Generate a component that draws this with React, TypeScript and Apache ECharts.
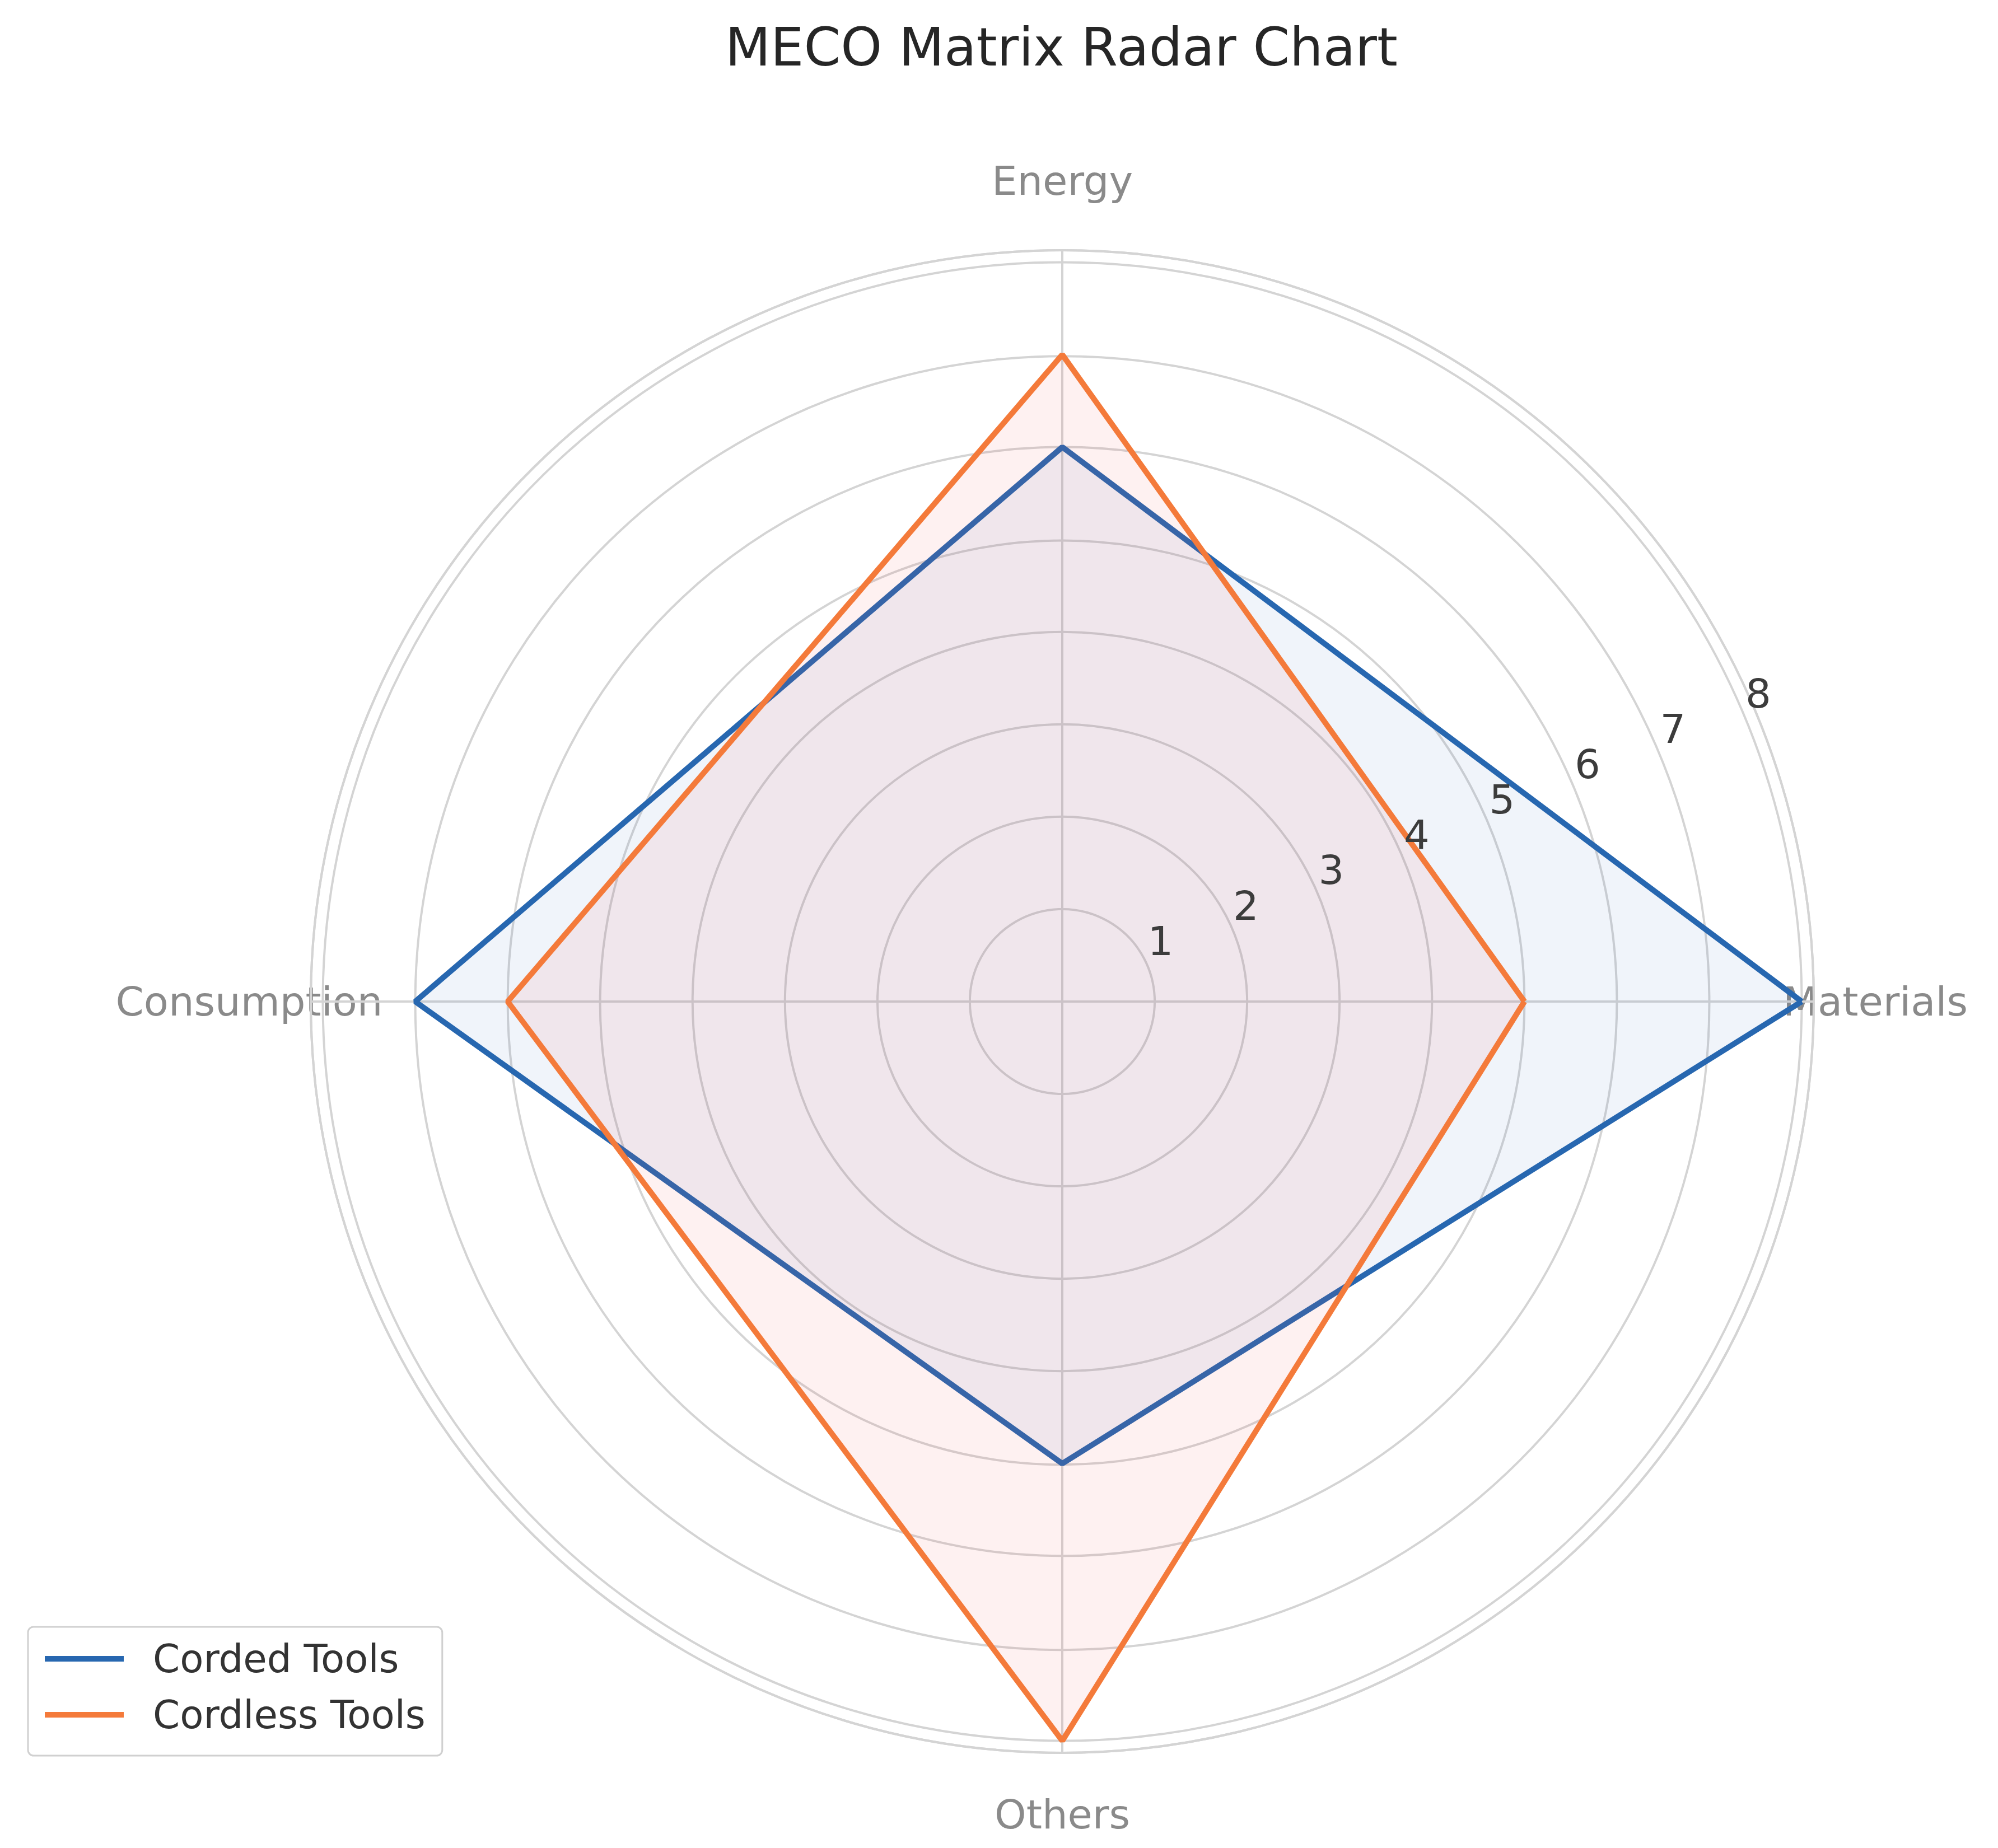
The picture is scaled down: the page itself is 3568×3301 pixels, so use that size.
import React, { useEffect, useRef } from "react";
import * as echarts from "echarts";

const title = "MECO Matrix Radar Chart";
const categories = ["Materials", "Energy", "Consumption", "Others"];
const seriesNames = ["Corded Tools", "Cordless Tools"];
const cordedValues = [8, 6, 7, 5];
const cordlessValues = [5, 7, 6, 8];
const radialTicks = [1, 2, 3, 4, 5, 6, 7, 8];
const radialMax = 8.13;

const FONT = "DejaVu Sans";
const GRID = "#d4d4d4";
const BLUE = "#2767b0";
const ORANGE = "#f47a3a";

function closedPoints(values: number[]) {
  const n = values.length;
  const pts = values.map((v, i) => [v, (i * 360) / n]);
  pts.push([values[0], 360]);
  return pts;
}

export default function App() {
  const ref = useRef<HTMLDivElement>(null);
  useEffect(() => {
    if (!ref.current) return;
    const chart = echarts.init(ref.current, null, { renderer: "svg" });
    const center = [1889, 1781];
    const radius = 1342;
    const labelStyle = {
      width: 500,
      lineHeight: 500,
      align: "center",
      fontFamily: FONT,
      fontSize: 72,
      color: "#8a8a8a",
    };
    chart.setOption({
      animation: false,
      backgroundColor: "#ffffff",
      textStyle: { fontFamily: FONT },
      title: {
        text: title,
        left: 1282,
        top: 24,
        textStyle: { fontFamily: FONT, fontSize: 94, fontWeight: "normal", color: "#262626" },
      },
      polar: [
        { center, radius },
        { center, radius },
      ],
      angleAxis: [
        {
          polarIndex: 0,
          type: "value",
          min: 0,
          max: 360,
          interval: 360 / categories.length,
          startAngle: 0,
          clockwise: false,
          axisLine: { show: true, lineStyle: { color: GRID, width: 4 } },
          axisTick: { show: false },
          splitLine: { show: true, lineStyle: { color: GRID, width: 4 } },
          axisLabel: {
            show: true,
            margin: -140,
            formatter: (v: number) => {
              const idx = Math.round(v / (360 / categories.length));
              if (idx >= categories.length) return "";
              return (idx === 1 ? "{e|" : "{c|") + categories[idx] + "}";
            },
            rich: {
              c: labelStyle,
              e: { ...labelStyle, lineHeight: 528 },
            },
          },
        },
        {
          polarIndex: 1,
          type: "value",
          min: 0,
          max: 360,
          startAngle: 22.5,
          show: false,
        },
      ],
      radiusAxis: [
        {
          polarIndex: 0,
          type: "value",
          min: 0,
          max: radialMax,
          interval: 1,
          axisLine: { show: false },
          axisTick: { show: false },
          axisLabel: { show: false },
          splitLine: { show: true, lineStyle: { color: GRID, width: 4 } },
        },
        {
          polarIndex: 1,
          type: "value",
          min: 0,
          max: radialMax,
          interval: 1,
          z: 10,
          axisLine: { show: false },
          axisTick: { show: false },
          splitLine: { show: false },
          axisLabel: {
            show: true,
            margin: 0,
            align: "left",
            verticalAlign: "bottom",
            lineHeight: 90,
            fontFamily: FONT,
            fontSize: 72,
            color: "#3c3c3c",
            showMaxLabel: false,
            formatter: (v: number) => (radialTicks.indexOf(v) >= 0 ? String(v) : ""),
          },
        },
      ],
      legend: {
        orient: "vertical",
        left: 42,
        top: 2898,
        padding: [22, 30, 38, 30],
        itemGap: 30,
        itemWidth: 141,
        itemHeight: 10,
        icon: "rect",
        borderColor: "#d0d0d0",
        borderWidth: 3,
        borderRadius: 10,
        backgroundColor: "#ffffff",
        textStyle: {
          fontFamily: FONT,
          fontSize: 69,
          lineHeight: 70,
          color: "#333333",
          padding: [0, 0, 0, 47],
        },
        data: [
          { name: seriesNames[0], itemStyle: { color: BLUE } },
          { name: seriesNames[1], itemStyle: { color: ORANGE } },
        ],
      },
      series: [
        {
          name: seriesNames[0],
          type: "line",
          coordinateSystem: "polar",
          polarIndex: 0,
          symbol: "none",
          data: closedPoints(cordedValues),
          lineStyle: { color: BLUE, width: 10 },
          itemStyle: { color: BLUE },
          areaStyle: { color: "rgba(40,100,180,0.1)" },
          z: 2,
        },
        {
          name: seriesNames[1],
          type: "line",
          coordinateSystem: "polar",
          polarIndex: 0,
          symbol: "none",
          data: closedPoints(cordlessValues),
          lineStyle: { color: ORANGE, width: 10 },
          itemStyle: { color: ORANGE },
          areaStyle: { color: "rgba(240,90,90,0.12)" },
          z: 3,
        },
      ],
    });
    return () => chart.dispose();
  }, []);
  return <div ref={ref} style={{ width: 3552, height: 3285 }} />;
}
